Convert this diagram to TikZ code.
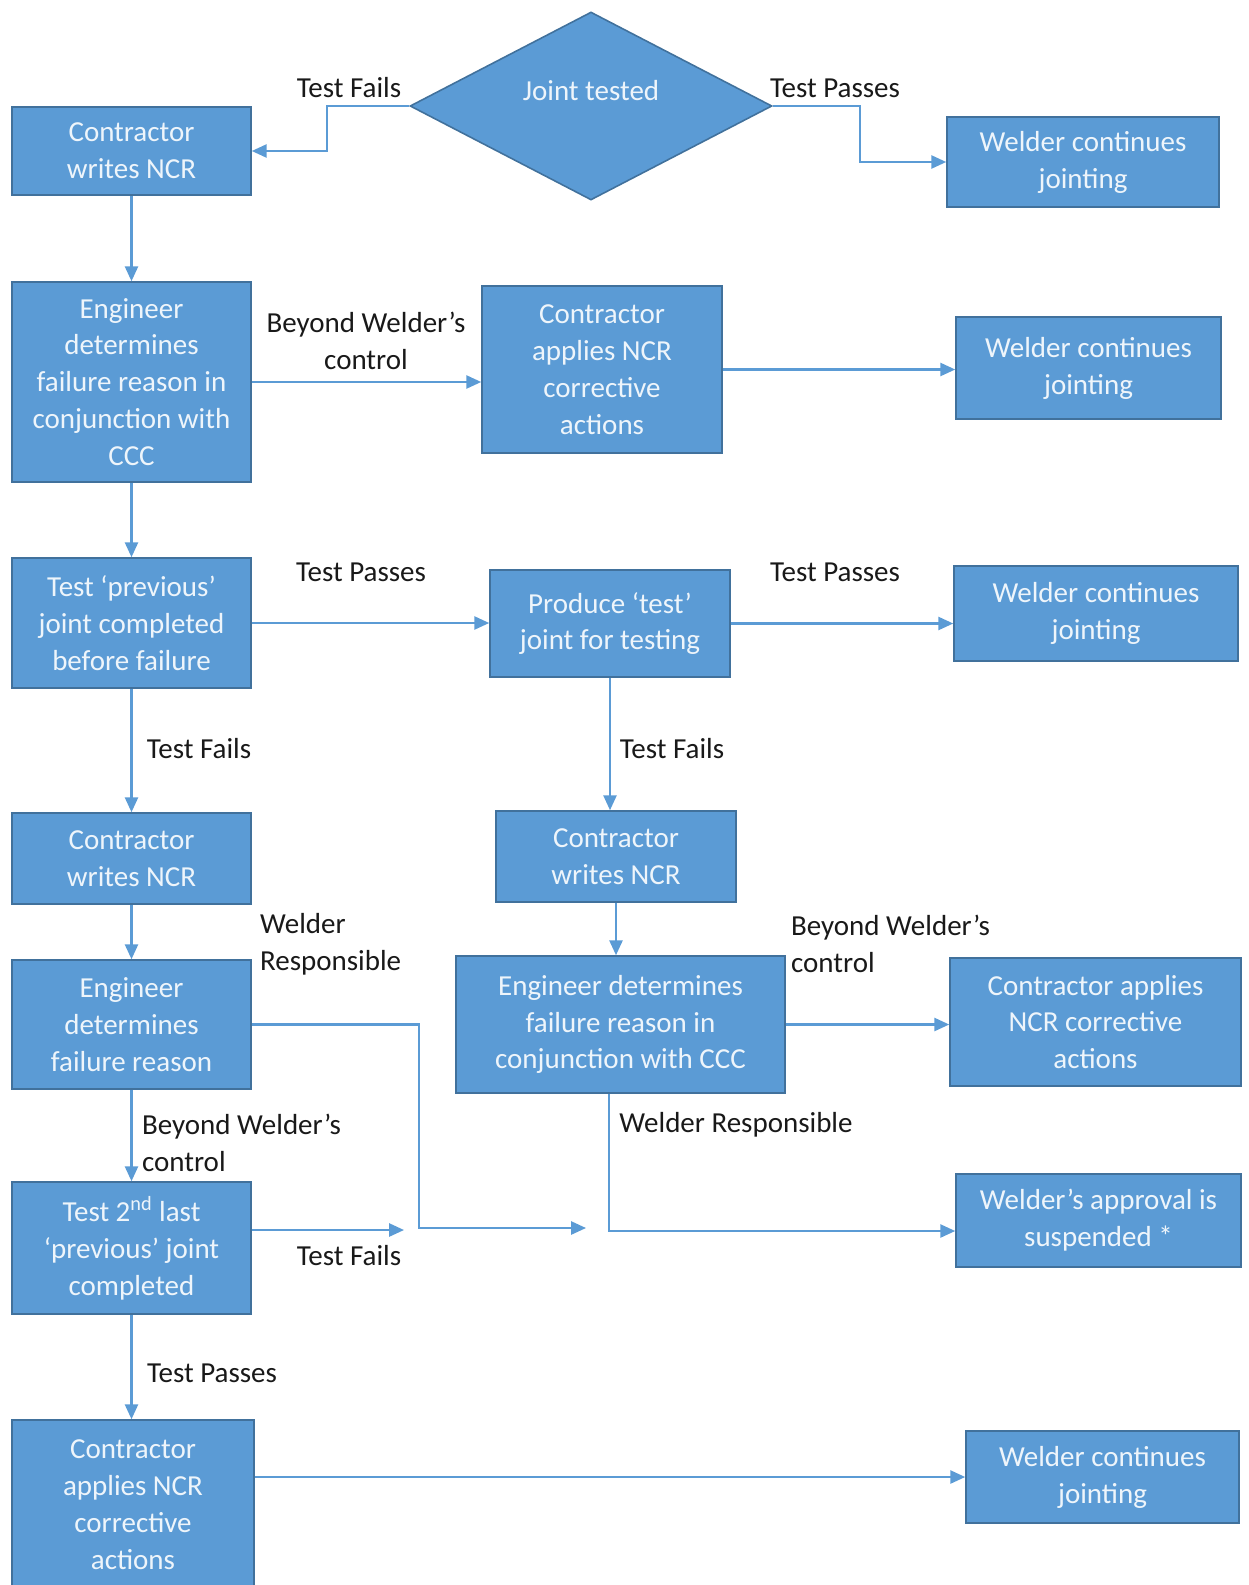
\documentclass[tikz,border=0pt]{standalone}
\usepackage{fontspec}
\setmainfont{Carlito}
\usetikzlibrary{shapes.geometric,arrows.meta}
\definecolor{boxBlue}{HTML}{5B9BD5}
\definecolor{boxEdge}{HTML}{41719C}
\definecolor{boxInk}{HTML}{EEF5FB}

\begin{document}
\begin{tikzpicture}
[x=0.02cm,y=-0.02cm,
  flowArrow/.style={-{Triangle[length=8.5pt,width=7.5pt]},line width=1.2pt,color=boxBlue},%
  blueBox/.style={shape=rectangle,draw=boxEdge,fill=boxBlue,line width=0.9pt,text=boxInk,align=center,inner sep=2pt,font=\fontsize{16.5}{21}\selectfont},%
  decision/.style={shape=diamond,draw=boxEdge,fill=boxBlue,line width=0.9pt,text=boxInk,inner sep=0pt,aspect=1.93,font=\fontsize{16.5}{21}\selectfont},%
  stepLabel/.style={align=center,text=black!90,inner sep=1pt,font=\fontsize{16.5}{21}\selectfont},%
  sideLabel/.style={stepLabel,anchor=west,align=left}]
\useasboundingbox (0,0) rectangle (1248,1585);
%% decision
\node (joint) at (591,106) [decision,minimum width=362*0.02cm,minimum height=188*0.02cm,text depth=0.63cm] {Joint tested};
%% boxes
\foreach \nodename/\x/\y/\w/\h/\txt in {
  ncrTop/131.5/151/239/88/{Contractor\\writes NCR},
  weldA/1083/162/272/90/{Welder continues\\jointing},
  engA/131.5/382/239/200/{Engineer\\determines\\failure reason in\\conjunction with\\CCC},
  applyA/602/369.5/240/167/{Contractor\\applies NCR\\corrective\\actions},
  weldB/1088.5/368/265/102/{Welder continues\\jointing},
  testPrev/131.5/623/239/130/{Test ‘previous’\\joint completed\\before failure},
  prodTest/610/623.5/240/107/{Produce ‘test’\\joint for testing},
  weldC/1096/613.5/284/95/{Welder continues\\jointing},
  ncrLeft/131.5/858.5/239/91/{Contractor\\writes NCR},
  ncrRight/616/856.5/240/91/{Contractor\\writes NCR},
  engB/131.5/1024.5/239/129/{Engineer\\determines\\failure reason},
  engC/620.5/1024.5/329/137/{Engineer determines\\failure reason in\\conjunction with CCC},
  applyB/1095.5/1022/291/128/{Contractor applies\\NCR corrective\\actions},
  suspend/1098.5/1220.5/285/93/{Welder’s approval is\\suspended *},
  test2nd/131.5/1248/239/132/{Test 2\textsuperscript{nd} last\\‘previous’ joint\\completed},
  applyC/133/1505/242/170/{Contractor\\applies NCR\\corrective\\actions},
  weldD/1102.5/1477/273/92/{Welder continues\\jointing}}
{
  \node (\nodename) at (\x,\y) [blueBox,minimum width=\w*0.02cm,minimum height=\h*0.02cm] {\txt};
}
%% loose ends and bends
\coordinate (looseA) at (586,1228);
\coordinate (looseB) at (404,1230);
\coordinate (dropC) at (609,1231);
%% straight connectors
\foreach \startnode/\endnode in {ncrTop/engA, engA/testPrev, testPrev/ncrLeft, ncrLeft/engB, engB/test2nd, test2nd/applyC, prodTest/ncrRight, ncrRight/engC}
{
  \draw[flowArrow] (\startnode.south) -- (\startnode.south |- \endnode.north);
}
\foreach \startnode/\endnode in {engA/applyA, applyA/weldB, testPrev/prodTest, prodTest/weldC, engC/applyB}
{
  \draw[flowArrow] (\startnode.east) -- (\startnode.east -| \endnode.west);
}
%% elbow connectors
\draw[flowArrow] (joint.west) -- ++(-82,0) |- (ncrTop);
\draw[flowArrow] (joint.east) -- ++(87,0) |- (weldA);
\draw[flowArrow] (engB.east) -- ++(167,0) |- (looseA);
\draw[flowArrow] (engC.south -| dropC) -- (dropC) -- (dropC -| suspend.west);
\draw[flowArrow] (test2nd.east |- looseB) -- (looseB);
\draw[flowArrow] (applyC.east |- weldD) -- (weldD);
%% labels
\foreach \labelname/\x/\y/\txt in {
  failA/349/88/{Test Fails}, passA/835/88/{Test Passes},
  beyondA/366/341/{Beyond Welder’s\\control},
  passB/361/572/{Test Passes}, passC/835/572/{Test Passes},
  failB/199/749/{Test Fails}, failC/672/749/{Test Fails},
  respB/736/1125/{Welder Responsible},
  failD/349/1256/{Test Fails}, passD/212/1373/{Test Passes}}
{
  \node (\labelname) at (\x,\y) [stepLabel] {\txt};
}
\foreach \labelname/\x/\y/\txt in {
  respA/258/944/{Welder\\Responsible},
  beyondB/789/944/{Beyond Welder’s\\control},
  beyondC/140/1143/{Beyond Welder’s\\control}}
{
  \node (\labelname) at (\x,\y) [sideLabel] {\txt};
}
\end{tikzpicture}
\end{document}
